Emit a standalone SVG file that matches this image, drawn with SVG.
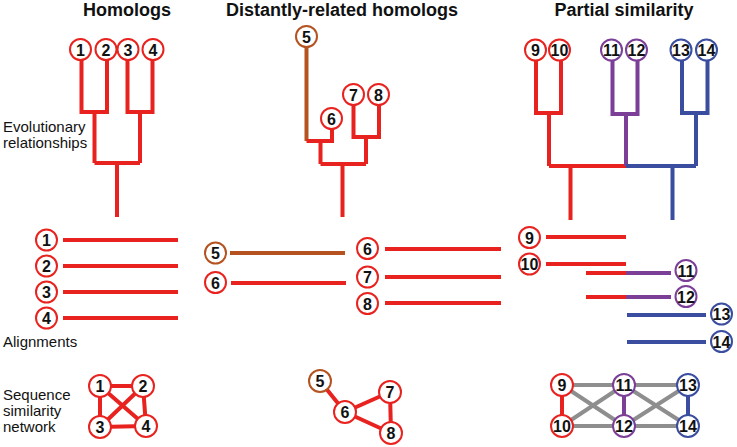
<svg xmlns="http://www.w3.org/2000/svg" width="737" height="447" viewBox="0 0 737 447">
<style>
.t{font-family:"Liberation Sans",Arial,sans-serif;font-weight:bold;font-size:18px;fill:#111;text-anchor:middle}
.lab{font-family:"Liberation Sans",Arial,sans-serif;font-size:15px;fill:#111}
.n circle{fill:#fff;stroke-width:2}
.n text{font-family:"Liberation Sans",Arial,sans-serif;font-weight:bold;font-size:16px;fill:#111;text-anchor:middle}
.r circle{stroke:#e8231f}.b circle{stroke:#b4531f}.p circle{stroke:#7b3f98}.u circle{stroke:#3a4d9f}
.e{fill:none;stroke-width:4;stroke-linecap:butt;stroke-linejoin:miter}
.er{stroke:#e8231f}.eb{stroke:#b4531f}.ep{stroke:#7b3f98}.eu{stroke:#3a4d9f}.eg{stroke:#8e8e8e}
</style>
<text class="t" x="127" y="16">Homologs</text>
<text class="t" x="342" y="16">Distantly-related homologs</text>
<text class="t" x="624" y="16">Partial similarity</text>
<text class="lab" x="3" y="132">Evolutionary</text>
<text class="lab" x="3" y="148">relationships</text>
<text class="lab" x="3" y="347">Alignments</text>
<text class="lab" x="3" y="400">Sequence</text>
<text class="lab" x="3" y="416">similarity</text>
<text class="lab" x="3" y="432">network</text>
<g id="connectors">
<!-- left tree -->
<path class="e er" d="M81.5 60V112H107V60M94.5 112V163M127.5 60V112H152.5V60M140 112V163M94.5 163H140M117 163V217"/>
<!-- middle tree -->
<path class="e eb" d="M306.5 47V141"/>
<path class="e er" d="M306.5 141H332V129M320.5 141V164M353.5 105V137H379V105M366 137V164M320.5 164H366M342.5 164V217"/>
<!-- right tree -->
<path class="e er" d="M536 61V113H561V61M549 113V166M549 166H626M570.5 166V220"/>
<path class="e ep" d="M612.5 61V114H637.5V61M626 114V166"/>
<path class="e eu" d="M682 61V113H707.5V61M696 113V166M626 166H696M672.5 166V220"/>
<!-- alignments left -->
<path class="e er" d="M63 240H178M63 266H178M63 292H178M63 318H178"/>
<!-- alignments middle -->
<path class="e eb" d="M230 253H345"/>
<path class="e er" d="M231 283H346M385 249H501M385 277H501M385 303H501"/>
<!-- alignments right -->
<path class="e er" d="M546 237H626M546 264H626M586 273H626M586 297H626"/>
<path class="e ep" d="M626 273H671M626 297H671"/>
<path class="e eu" d="M627 315H706M627 342H706"/>
<!-- network left -->
<path class="e er" d="M100 386H143M100 386V427M100 386L146 426M143 386L100 427M143 386L146 426M100 427L146 426"/>
<!-- network middle -->
<path class="e er" d="M320 381L345 412M345 412L390 392M345 412L391 433M390 392L391 433"/>
<!-- network right -->
<path class="e eg" d="M562 385H688M562 426H688M562 385L624 426M562 426L624 385M624 385L688 426M624 426L688 385"/>
<path class="e er" d="M562 385V426"/>
<path class="e ep" d="M624 385V426"/>
<path class="e eu" d="M688 385V426"/>
</g>
<!-- tree nodes -->
<g id="t1" class="n r"><circle cx="80.5" cy="49.5" r="10.5"/><text x="80.5" y="55.5">1</text></g>
<g id="t2" class="n r"><circle cx="106" cy="49.5" r="10.5"/><text x="106" y="55.5">2</text></g>
<g id="t3" class="n r"><circle cx="128" cy="49.5" r="10.5"/><text x="128" y="55.5">3</text></g>
<g id="t4" class="n r"><circle cx="153" cy="49.5" r="10.5"/><text x="153" y="55.5">4</text></g>
<g id="t5" class="n b"><circle cx="306.5" cy="36.5" r="10.5"/><text x="306.5" y="42.5">5</text></g>
<g id="t6" class="n r"><circle cx="331.5" cy="118.5" r="10.5"/><text x="331.5" y="124.5">6</text></g>
<g id="t7" class="n r"><circle cx="353.5" cy="94.5" r="10.5"/><text x="353.5" y="100.5">7</text></g>
<g id="t8" class="n r"><circle cx="378.5" cy="94.5" r="10.5"/><text x="378.5" y="100.5">8</text></g>
<g id="t9" class="n r"><circle cx="535.5" cy="50" r="10.5"/><text x="535.5" y="56">9</text></g>
<g id="t10" class="n r"><circle cx="559.5" cy="50" r="10.5"/><text x="559.5" y="56">10</text></g>
<g id="t11" class="n p"><circle cx="611.5" cy="50" r="10.5"/><text x="611.5" y="56">11</text></g>
<g id="t12" class="n p"><circle cx="636.5" cy="50" r="10.5"/><text x="636.5" y="56">12</text></g>
<g id="t13" class="n u"><circle cx="681" cy="50" r="10.5"/><text x="681" y="56">13</text></g>
<g id="t14" class="n u"><circle cx="706.5" cy="50" r="10.5"/><text x="706.5" y="56">14</text></g>
<!-- alignment nodes -->
<g id="a1" class="n r"><circle cx="46.5" cy="240" r="10.5"/><text x="46.5" y="246">1</text></g>
<g id="a2" class="n r"><circle cx="46.5" cy="266" r="10.5"/><text x="46.5" y="272">2</text></g>
<g id="a3" class="n r"><circle cx="46.5" cy="292" r="10.5"/><text x="46.5" y="298">3</text></g>
<g id="a4" class="n r"><circle cx="46.5" cy="318" r="10.5"/><text x="46.5" y="324">4</text></g>
<g id="a5" class="n b"><circle cx="215.5" cy="253" r="10.5"/><text x="215.5" y="259">5</text></g>
<g id="a6" class="n r"><circle cx="215.5" cy="282.5" r="10.5"/><text x="215.5" y="288.5">6</text></g>
<g id="a6b" class="n r"><circle cx="367.5" cy="248.5" r="10.5"/><text x="367.5" y="254.5">6</text></g>
<g id="a7" class="n r"><circle cx="367.5" cy="277" r="10.5"/><text x="367.5" y="283">7</text></g>
<g id="a8" class="n r"><circle cx="367.5" cy="303.5" r="10.5"/><text x="367.5" y="309.5">8</text></g>
<g id="a9" class="n r"><circle cx="529.5" cy="237.5" r="10.5"/><text x="529.5" y="243.5">9</text></g>
<g id="a10" class="n r"><circle cx="529.5" cy="264" r="10.5"/><text x="529.5" y="270">10</text></g>
<g id="a11" class="n p"><circle cx="686" cy="270.5" r="10.5"/><text x="686" y="276.5">11</text></g>
<g id="a12" class="n p"><circle cx="686" cy="296.5" r="10.5"/><text x="686" y="302.5">12</text></g>
<g id="a13" class="n u"><circle cx="721.5" cy="314" r="10.5"/><text x="721.5" y="320">13</text></g>
<g id="a14" class="n u"><circle cx="721.5" cy="341.5" r="10.5"/><text x="721.5" y="347.5">14</text></g>
<!-- network nodes -->
<g id="s1" class="n r"><circle cx="100" cy="386" r="11"/><text x="100" y="392">1</text></g>
<g id="s2" class="n r"><circle cx="143" cy="386" r="11"/><text x="143" y="392">2</text></g>
<g id="s3" class="n r"><circle cx="100" cy="427" r="11"/><text x="100" y="433">3</text></g>
<g id="s4" class="n r"><circle cx="146" cy="426" r="11"/><text x="146" y="432">4</text></g>
<g id="s5" class="n b"><circle cx="320" cy="381" r="11"/><text x="320" y="387">5</text></g>
<g id="s6" class="n r"><circle cx="345" cy="412" r="11"/><text x="345" y="418">6</text></g>
<g id="s7" class="n r"><circle cx="390" cy="392" r="11"/><text x="390" y="398">7</text></g>
<g id="s8" class="n r"><circle cx="391" cy="433" r="11"/><text x="391" y="439">8</text></g>
<g id="s9" class="n r"><circle cx="562" cy="385" r="11"/><text x="562" y="391">9</text></g>
<g id="s10" class="n r"><circle cx="562" cy="426" r="11"/><text x="562" y="432">10</text></g>
<g id="s11" class="n p"><circle cx="624" cy="385" r="11"/><text x="624" y="391">11</text></g>
<g id="s12" class="n p"><circle cx="624" cy="426" r="11"/><text x="624" y="432">12</text></g>
<g id="s13" class="n u"><circle cx="688" cy="385" r="11"/><text x="688" y="391">13</text></g>
<g id="s14" class="n u"><circle cx="688" cy="426" r="11"/><text x="688" y="432">14</text></g>
</svg>
